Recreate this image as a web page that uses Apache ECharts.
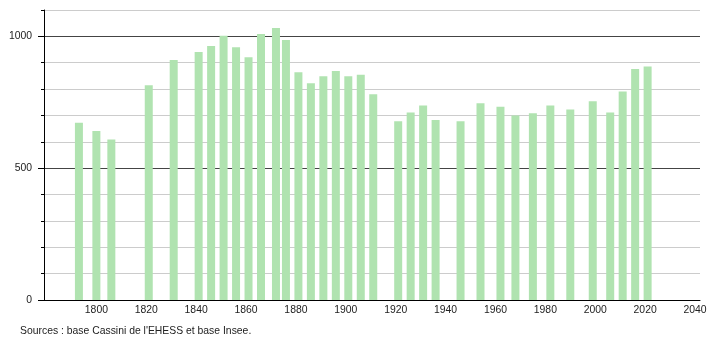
<!DOCTYPE html>
<html><head><meta charset="utf-8">
<script src="https://cdn.jsdelivr.net/npm/echarts@6/dist/echarts.min.js"></script>
<style>html,body{margin:0;padding:0;background:#fff}#c{width:710px;height:340px}</style>
</head><body><div id="c"></div>
<script>
var years = [1793,1800,1806,1821,1831,1841,1846,1851,1856,1861,1866,1872,1876,1881,1886,1891,1896,1901,1906,1911,1921,1926,1931,1936,1946,1954,1962,1968,1975,1982,1990,1999,2006,2011,2016,2021];
var population = [672,641,609,815,910,941,963,1002,959,921,1009,1032,986,864,822,849,869,849,854,780,678,711,738,683,678,746,733,700,708,738,723,754,711,791,876,886];
var xTickLabels = [1800,1820,1840,1860,1880,1900,1920,1940,1960,1980,2000,2020,2040];
var yTickLabels = [0,500,1000];
var sourceText = "Sources : base Cassini de l'EHESS et base Insee.";

var font = "Liberation Sans, Arial, sans-serif";
var plain = function(v){return String(v);};
var chart = echarts.init(document.getElementById('c'), null, {renderer:'canvas'});
chart.setOption({
  animation:false,
  title:{text:sourceText, left:15, top:321, textStyle:{fontFamily:font, fontSize:10.4, fontWeight:'normal', color:'#222'}},
  grid:{left:44, right:10, top:10, bottom:40, containLabel:false},
  xAxis:{type:'value', min:1779, max:2042,
    axisLine:{lineStyle:{color:'#000', width:1}},
    axisTick:{show:false},
    splitLine:{show:false},
    axisLabel:{customValues:xTickLabels, formatter:plain, color:'#222', fontFamily:font, fontSize:10.4, margin:5, showMaxLabel:true}
  },
  yAxis:[{type:'value', min:0, max:1100, interval:100,
    axisLine:{show:true, lineStyle:{color:'#000'}},
    axisTick:{show:true, length:3, lineStyle:{color:'#000'}},
    axisLabel:{customValues:yTickLabels, formatter:plain, color:'#222', fontFamily:font, fontSize:10.4, margin:12},
    splitLine:{show:true, lineStyle:{color:['#444','#cccccc','#cccccc','#cccccc','#cccccc'], width:1}}
  },{type:'value', min:0, max:1100, interval:100, position:'left',
    axisLine:{show:false},
    axisTick:{show:true, length:6, customValues:yTickLabels, lineStyle:{color:'#000'}},
    axisLabel:{show:false},
    splitLine:{show:false}
  }],
  series:[{type:'bar', barWidth:8, itemStyle:{color:'#b0e3b0'},
    data: years.map(function(y,i){return [y, population[i]];})
  }]
});
</script></body></html>
